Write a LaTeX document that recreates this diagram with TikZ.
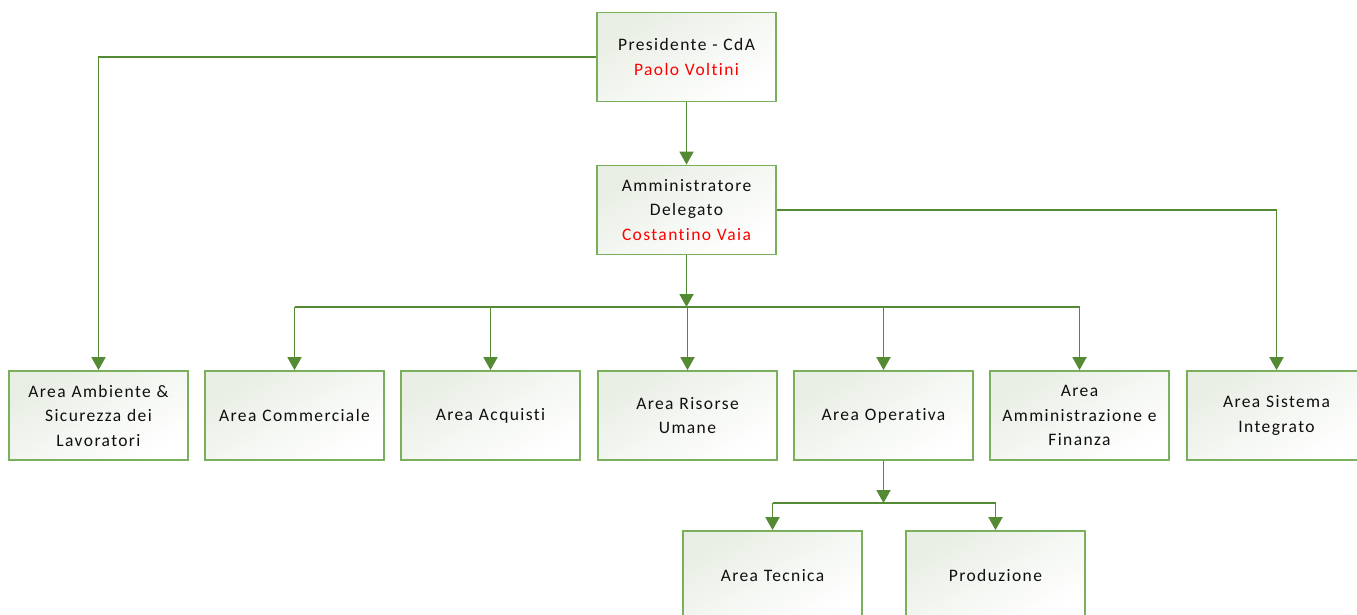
\documentclass[tikz,border=0pt]{standalone}
\usepackage{fontspec}
\setmainfont{Carlito}[LetterSpace=8, Ligatures={NoCommon}]
\usetikzlibrary{arrows.meta}
\definecolor{boxline}{RGB}{122,176,92}
\definecolor{conn}{RGB}{84,138,52}
\definecolor{boxfill}{RGB}{232,238,228}
\definecolor{txt}{RGB}{15,15,15}
\definecolor{namered}{RGB}{255,0,0}
\tikzset{
  orgbox/.style={draw=boxline, line width=1.8pt, top color=boxfill, bottom color=white, shading angle=30,
    minimum width=179pt, minimum height=89pt, inner sep=2pt, align=center, text width=174pt,
    font=\fontsize{17.5pt}{24.5pt}\selectfont, text=txt},
  conn/.style={draw=conn, line width=1.8pt},
  arr/.style={conn, -{Triangle[width=14pt,length=13pt]}},
  arrnone/.style={conn}
}
\begin{document}
\begin{tikzpicture}[x=1pt,y=-1pt]
\useasboundingbox (0,0) rectangle (1357,615);
\clip (0,0) rectangle (1357,615);
\fill[white] (0,0) rectangle (1357,615);
\node[orgbox] (pres) at (686.5,57) {Presidente - CdA\\\textcolor{namered}{Paolo Voltini}};
\node[orgbox] (ad) at (686.5,210) {Amministratore\\Delegato\\\textcolor{namered}{Costantino Vaia}};
\node[orgbox] (amb) at (98.5,415.5) {Area Ambiente \&\\Sicurezza dei\\Lavoratori};
\node[orgbox] (comm) at (294.5,415.5) {Area Commerciale};
\node[orgbox] (acq) at (490.5,415.5) {Area Acquisti};
\node[orgbox] (ris) at (687.5,415.5) {Area Risorse\\Umane};
\node[orgbox] (oper) at (883.5,415.5) {Area Operativa};
\node[orgbox] (amm) at (1079.5,415.5) {Area\\Amministrazione e\\Finanza};
\node[orgbox] (sist) at (1276.5,415.5) {Area Sistema\\Integrato};
\node[orgbox] (tec) at (772.5,575.5) {Area Tecnica};
\node[orgbox] (prod) at (995.5,575.5) {Produzione};
\coordinate (bus) at (686.5,307);
\coordinate (bus2) at (883.5,503);
% connectors
\draw[arr] (pres.west) -| (amb.north);
\draw[arr] (pres.south) -- (ad.north);
\draw[arr] (ad.east) -| (sist.north);
\draw[arr] (ad.south) -- (bus);
\draw[arrnone] (comm.north |- bus) -- (amm.north |- bus);
\draw[arr] (bus -| comm.north) -- (comm.north);
\draw[arr] (bus -| acq.north) -- (acq.north);
\draw[arr] (bus) -- (bus -| ris.north) -- (ris.north);
\draw[arr] (bus -| oper.north) -- (oper.north);
\draw[arr] (bus -| amm.north) -- (amm.north);
\draw[arr] (oper.south) -- (bus2);
\draw[arrnone] (tec.north |- bus2) -- (prod.north |- bus2);
\draw[arr] (bus2 -| tec.north) -- (tec.north);
\draw[arr] (bus2 -| prod.north) -- (prod.north);
\end{tikzpicture}
\end{document}
